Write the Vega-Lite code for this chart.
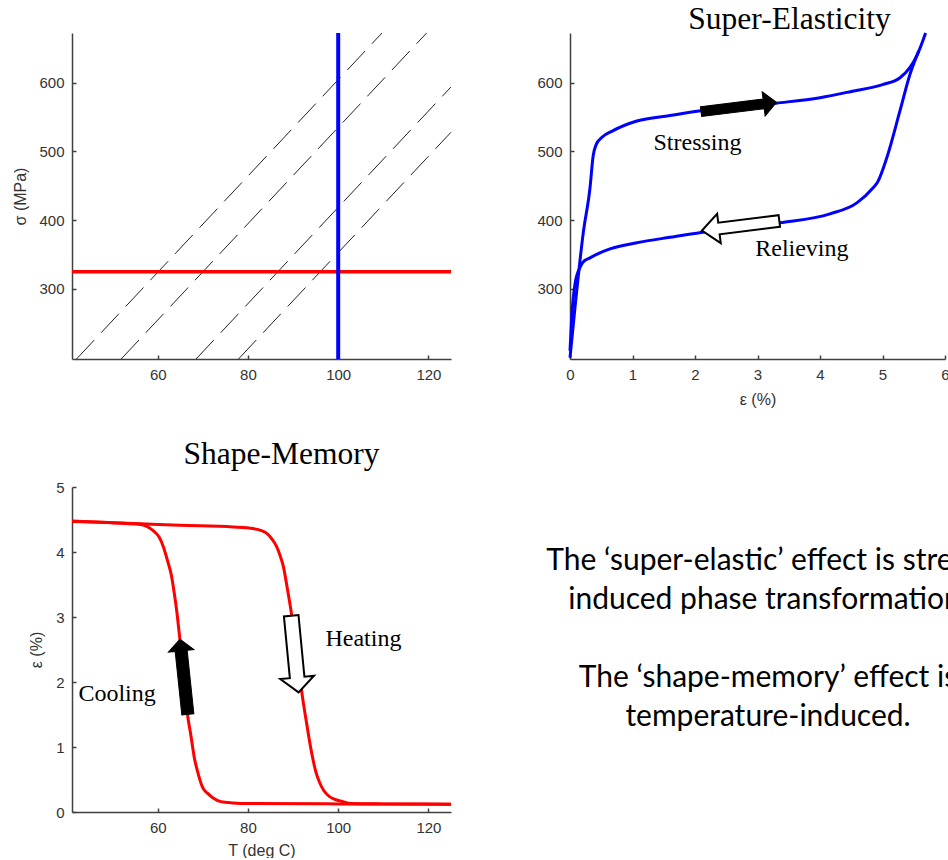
{
  "$schema": "https://vega.github.io/schema/vega-lite/v6.json",
  "background": "white",
  "padding": {"left": 12, "top": 3, "right": 0, "bottom": 0},
  "columns": 2,
  "bounds": "flush",
  "spacing": {"row": 128, "column": 119},
  "config": {
    "view": {"stroke": null},
    "axis": {
      "grid": false,
      "domainColor": "#404040",
      "domainWidth": 1.5,
      "tickColor": "#404040",
      "tickWidth": 1.5,
      "tickSize": -4,
      "labelColor": "#333",
      "labelFont": "Liberation Sans",
      "labelFontSize": 15,
      "labelPadding": 12,
      "labelFlush": false,
      "format": "d",
      "titleFont": "Liberation Sans",
      "titleFontSize": 16,
      "titleFontWeight": "normal",
      "titleColor": "#333"
    },
    "title": {"font": "Liberation Serif", "fontSize": 31.5, "fontWeight": "normal", "color": "black", "baseline": "alphabetic"}
  },
  "datasets": {
    "iso": [
      {"line": "a", "T": 42.0, "sigma": 198}, {"line": "a", "T": 109.7, "sigma": 672},
      {"line": "b", "T": 51.9, "sigma": 198}, {"line": "b", "T": 119.6, "sigma": 672},
      {"line": "c", "T": 68.5, "sigma": 198}, {"line": "c", "T": 125, "sigma": 593.5},
      {"line": "d", "T": 77.9, "sigma": 198}, {"line": "d", "T": 125, "sigma": 527.7}
    ],
    "se": [
      {"branch": "loading", "eps": 0, "sigma": 200},
      {"branch": "loading", "eps": 0.08, "sigma": 273},
      {"branch": "loading", "eps": 0.21, "sigma": 380},
      {"branch": "loading", "eps": 0.32, "sigma": 447},
      {"branch": "loading", "eps": 0.37, "sigma": 493},
      {"branch": "loading", "eps": 0.42, "sigma": 510},
      {"branch": "loading", "eps": 0.507, "sigma": 520},
      {"branch": "loading", "eps": 0.69, "sigma": 530},
      {"branch": "loading", "eps": 1.07, "sigma": 544},
      {"branch": "loading", "eps": 1.6, "sigma": 552},
      {"branch": "loading", "eps": 2.1, "sigma": 559},
      {"branch": "loading", "eps": 2.6, "sigma": 563},
      {"branch": "loading", "eps": 3.3, "sigma": 570},
      {"branch": "loading", "eps": 4.0, "sigma": 578},
      {"branch": "loading", "eps": 4.5, "sigma": 587},
      {"branch": "loading", "eps": 5.0, "sigma": 597},
      {"branch": "loading", "eps": 5.28, "sigma": 607},
      {"branch": "loading", "eps": 5.44, "sigma": 622},
      {"branch": "loading", "eps": 5.55, "sigma": 639},
      {"branch": "loading", "eps": 5.69, "sigma": 672},
      {"branch": "unloading", "eps": 5.58, "sigma": 646},
      {"branch": "unloading", "eps": 5.44, "sigma": 612},
      {"branch": "unloading", "eps": 5.28, "sigma": 559},
      {"branch": "unloading", "eps": 5.07, "sigma": 491},
      {"branch": "unloading", "eps": 4.92, "sigma": 455},
      {"branch": "unloading", "eps": 4.85, "sigma": 447},
      {"branch": "unloading", "eps": 4.59, "sigma": 425},
      {"branch": "unloading", "eps": 4.16, "sigma": 409},
      {"branch": "unloading", "eps": 3.36, "sigma": 396},
      {"branch": "unloading", "eps": 2.6, "sigma": 387},
      {"branch": "unloading", "eps": 2.1, "sigma": 382},
      {"branch": "unloading", "eps": 1.6, "sigma": 375},
      {"branch": "unloading", "eps": 1.07, "sigma": 367},
      {"branch": "unloading", "eps": 0.64, "sigma": 358},
      {"branch": "unloading", "eps": 0.32, "sigma": 345},
      {"branch": "unloading", "eps": 0.2, "sigma": 338},
      {"branch": "unloading", "eps": 0.16, "sigma": 331},
      {"branch": "unloading", "eps": 0.08, "sigma": 307},
      {"branch": "unloading", "eps": 0.027, "sigma": 258},
      {"branch": "unloading", "eps": 0, "sigma": 210}
    ],
    "seLabels": [
      {"eps": 2.04, "sigma": 502, "label": "Stressing"},
      {"eps": 3.71, "sigma": 348, "label": "Relieving"}
    ],
    "seArrows": [
      {"kind": "filled", "eps": 2.7, "sigma": 564.5},
      {"kind": "hollow", "eps": 2.73, "sigma": 391.7}
    ],
    "sm": [
      {"branch": "heating", "T": 41, "eps": 4.477},
      {"branch": "heating", "T": 50, "eps": 4.45},
      {"branch": "heating", "T": 57.4, "eps": 4.43},
      {"branch": "heating", "T": 65, "eps": 4.41},
      {"branch": "heating", "T": 76.7, "eps": 4.385},
      {"branch": "heating", "T": 81.2, "eps": 4.36},
      {"branch": "heating", "T": 83, "eps": 4.33},
      {"branch": "heating", "T": 84.1, "eps": 4.29},
      {"branch": "heating", "T": 85.3, "eps": 4.2},
      {"branch": "heating", "T": 86.3, "eps": 4.09},
      {"branch": "heating", "T": 87.1, "eps": 3.95},
      {"branch": "heating", "T": 87.8, "eps": 3.79},
      {"branch": "heating", "T": 88.7, "eps": 3.45},
      {"branch": "heating", "T": 89.6, "eps": 3.07},
      {"branch": "heating", "T": 90.5, "eps": 2.6},
      {"branch": "heating", "T": 91.3, "eps": 2.2},
      {"branch": "heating", "T": 92.0, "eps": 1.81},
      {"branch": "heating", "T": 92.8, "eps": 1.45},
      {"branch": "heating", "T": 93.5, "eps": 1.15},
      {"branch": "heating", "T": 94.2, "eps": 0.88},
      {"branch": "heating", "T": 95.0, "eps": 0.63},
      {"branch": "heating", "T": 95.9, "eps": 0.45},
      {"branch": "heating", "T": 96.8, "eps": 0.33},
      {"branch": "heating", "T": 98, "eps": 0.24},
      {"branch": "heating", "T": 99.1, "eps": 0.197},
      {"branch": "heating", "T": 101, "eps": 0.16},
      {"branch": "heating", "T": 102.8, "eps": 0.13},
      {"branch": "heating", "T": 110, "eps": 0.125},
      {"branch": "heating", "T": 125, "eps": 0.12},
      {"branch": "cooling", "T": 125, "eps": 0.12},
      {"branch": "cooling", "T": 100, "eps": 0.125},
      {"branch": "cooling", "T": 80, "eps": 0.13},
      {"branch": "cooling", "T": 76.7, "eps": 0.14},
      {"branch": "cooling", "T": 74, "eps": 0.16},
      {"branch": "cooling", "T": 72.2, "eps": 0.22},
      {"branch": "cooling", "T": 71, "eps": 0.29},
      {"branch": "cooling", "T": 70, "eps": 0.37},
      {"branch": "cooling", "T": 69, "eps": 0.58},
      {"branch": "cooling", "T": 68.1, "eps": 0.84},
      {"branch": "cooling", "T": 67.3, "eps": 1.2},
      {"branch": "cooling", "T": 66.6, "eps": 1.5},
      {"branch": "cooling", "T": 65.8, "eps": 2.1},
      {"branch": "cooling", "T": 64.8, "eps": 2.73},
      {"branch": "cooling", "T": 64.2, "eps": 3.1},
      {"branch": "cooling", "T": 63.7, "eps": 3.35},
      {"branch": "cooling", "T": 63, "eps": 3.65},
      {"branch": "cooling", "T": 62.2, "eps": 3.86},
      {"branch": "cooling", "T": 61.3, "eps": 4.07},
      {"branch": "cooling", "T": 60.4, "eps": 4.22},
      {"branch": "cooling", "T": 59.3, "eps": 4.31},
      {"branch": "cooling", "T": 58.2, "eps": 4.37},
      {"branch": "cooling", "T": 57, "eps": 4.41},
      {"branch": "cooling", "T": 55, "eps": 4.43},
      {"branch": "cooling", "T": 41, "eps": 4.47}
    ],
    "smLabels": [
      {"T": 105.6, "eps": 2.55, "label": "Heating"},
      {"T": 51.0, "eps": 1.71, "label": "Cooling"}
    ],
    "smArrows": [
      {"kind": "filled", "T": 65.8, "eps": 2.08},
      {"kind": "hollow", "T": 90.4, "eps": 2.43}
    ],
    "notes": [
      {"lines": ["The ‘super-elastic’ effect is stress-", "induced phase transformation.", "\u200b", "The ‘shape-memory’ effect is", "temperature-induced."]}
    ]
  },
  "concat": [
    {
      "width": 379,
      "height": 326,
      "layer": [
        {
          "data": {"name": "iso"},
          "mark": {"type": "line", "strokeDash": [26, 10], "strokeWidth": 1, "color": "#222"},
          "encoding": {
            "x": {"field": "T", "type": "quantitative", "scale": {"domain": [41, 125], "nice": false, "zero": false}, "axis": {"values": [60, 80, 100, 120], "title": null}},
            "y": {"field": "sigma", "type": "quantitative", "scale": {"domain": [198, 672], "nice": false, "zero": false}, "axis": {"values": [300, 400, 500, 600], "title": "σ (MPa)", "titlePadding": 10}},
            "detail": {"field": "line"}
          }
        },
        {
          "data": {"values": [{"sigma": 325}]},
          "mark": {"type": "rule", "color": "#ff0000", "strokeWidth": 3.5},
          "encoding": {"y": {"field": "sigma", "type": "quantitative"}}
        },
        {
          "data": {"values": [{"T": 100}]},
          "mark": {"type": "rule", "color": "#0000ff", "strokeWidth": 4},
          "encoding": {"x": {"field": "T", "type": "quantitative"}}
        }
      ]
    },
    {
      "width": 375,
      "height": 326,
      "title": {"text": "Super-Elasticity", "dx": 32, "offset": -8},
      "layer": [
        {
          "data": {"name": "se"},
          "mark": {"type": "line", "color": "#0000ff", "strokeWidth": 3, "interpolate": "monotone"},
          "encoding": {
            "x": {"field": "eps", "type": "quantitative", "scale": {"domain": [0, 6], "nice": false}, "axis": {"values": [0, 1, 2, 3, 4, 5, 6], "title": "ε (%)", "titlePadding": 9}},
            "y": {"field": "sigma", "type": "quantitative", "scale": {"domain": [198, 672], "nice": false, "zero": false}, "axis": {"values": [300, 400, 500, 600], "title": null}},
            "detail": {"field": "branch"}
          }
        },
        {
          "data": {"name": "seArrows"},
          "transform": [{"filter": "datum.kind === 'filled'"}],
          "mark": {"type": "point", "shape": "M-1,-0.13L0.66,-0.13L0.66,-0.32L1,0L0.66,0.32L0.66,0.13L-1,0.13Z", "size": 5776, "angle": -7, "filled": true, "fill": "black", "stroke": "black", "strokeWidth": 1, "opacity": 1},
          "encoding": {"x": {"field": "eps", "type": "quantitative"}, "y": {"field": "sigma", "type": "quantitative"}}
        },
        {
          "data": {"name": "seArrows"},
          "transform": [{"filter": "datum.kind === 'hollow'"}],
          "mark": {"type": "point", "shape": "M-1,-0.15L0.56,-0.15L0.56,-0.38L1,0L0.56,0.38L0.56,0.15L-1,0.15Z", "size": 6084, "angle": 173, "filled": true, "fill": "white", "stroke": "black", "strokeWidth": 2, "opacity": 1},
          "encoding": {"x": {"field": "eps", "type": "quantitative"}, "y": {"field": "sigma", "type": "quantitative"}}
        },
        {
          "data": {"name": "seLabels"},
          "mark": {"type": "text", "font": "Liberation Serif", "fontSize": 24, "color": "black", "align": "center", "baseline": "alphabetic"},
          "encoding": {"x": {"field": "eps", "type": "quantitative"}, "y": {"field": "sigma", "type": "quantitative"}, "text": {"field": "label"}}
        }
      ]
    },
    {
      "width": 379,
      "height": 325,
      "title": {"text": "Shape-Memory", "dx": 20, "offset": 10},
      "layer": [
        {
          "data": {"name": "sm"},
          "mark": {"type": "line", "color": "#ff0000", "strokeWidth": 3, "interpolate": "monotone"},
          "encoding": {
            "x": {"field": "T", "type": "quantitative", "scale": {"domain": [41, 125], "nice": false, "zero": false}, "axis": {"values": [60, 80, 100, 120], "title": "T (deg C)", "titlePadding": 7}},
            "y": {"field": "eps", "type": "quantitative", "scale": {"domain": [0, 5], "nice": false}, "axis": {"values": [0, 1, 2, 3, 4, 5], "title": "ε (%)", "titlePadding": 11}},
            "detail": {"field": "branch"}
          }
        },
        {
          "data": {"name": "smArrows"},
          "transform": [{"filter": "datum.kind === 'filled'"}],
          "mark": {"type": "point", "shape": "M-1,-0.16L0.69,-0.16L0.69,-0.34L1,0L0.69,0.34L0.69,0.16L-1,0.16Z", "size": 5700, "angle": -96, "filled": true, "fill": "black", "stroke": "black", "strokeWidth": 1, "opacity": 1},
          "encoding": {"x": {"field": "T", "type": "quantitative"}, "y": {"field": "eps", "type": "quantitative"}}
        },
        {
          "data": {"name": "smArrows"},
          "transform": [{"filter": "datum.kind === 'hollow'"}],
          "mark": {"type": "point", "shape": "M-1,-0.19L0.61,-0.19L0.61,-0.44L1,0L0.61,0.44L0.61,0.19L-1,0.19Z", "size": 5929, "angle": 84.5, "filled": true, "fill": "white", "stroke": "black", "strokeWidth": 2, "opacity": 1},
          "encoding": {"x": {"field": "T", "type": "quantitative"}, "y": {"field": "eps", "type": "quantitative"}}
        },
        {
          "data": {"name": "smLabels"},
          "mark": {"type": "text", "font": "Liberation Serif", "fontSize": 24, "color": "black", "align": "center", "baseline": "alphabetic"},
          "encoding": {"x": {"field": "T", "type": "quantitative"}, "y": {"field": "eps", "type": "quantitative"}, "text": {"field": "label"}}
        }
      ]
    },
    {
      "width": 378,
      "height": 325,
      "data": {"name": "notes"},
      "mark": {"type": "text", "font": "Lato", "fontSize": 30, "color": "black", "align": "center", "baseline": "alphabetic", "lineHeight": 39, "dx": 9, "dy": -80},
      "encoding": {"text": {"field": "lines"}}
    }
  ]
}
